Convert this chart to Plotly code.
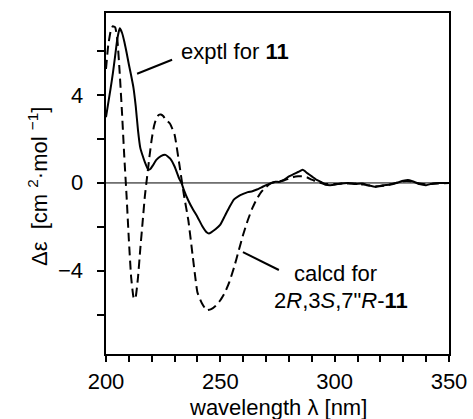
import plotly.graph_objects as go

# Experimental CD spectrum (solid)
exp_wl = [200, 202, 203, 204, 205, 206, 207, 208, 209, 210, 211, 212, 213, 214, 215, 216, 217, 218.5,
          219.5, 220.5, 222, 224, 226, 228, 230, 232, 233, 234, 236, 238, 240, 242, 244, 245, 246,
          248, 250, 252, 254, 256, 258, 260, 262, 264, 266, 268, 270, 272, 274, 276, 278, 280,
          282, 284, 286, 288, 290, 292, 294, 296, 298, 300, 303, 306, 309, 312, 315, 318, 321,
          324, 327, 330, 332, 334, 337, 340, 343, 346, 350]
exp_de = [3.0, 4.3, 5.0, 5.8, 6.6, 7.05, 6.85, 6.45, 5.95, 5.4, 4.9, 4.35, 3.5, 2.4, 1.6, 1.25, 0.95, 0.6,
          0.65, 0.8, 1.05, 1.22, 1.28, 1.12, 0.75, 0.2, 0.0, -0.3, -0.8, -1.2, -1.55, -1.95, -2.25, -2.3, -2.25,
          -2.1, -1.9, -1.5, -1.1, -0.75, -0.6, -0.5, -0.42, -0.38, -0.3, -0.2, -0.1, -0.02, 0.05, 0.05, 0.15, 0.3,
          0.4, 0.5, 0.6, 0.45, 0.3, 0.15, 0.05, -0.08, -0.1, -0.08, -0.02, 0.0, -0.05, -0.03, -0.12, -0.18, -0.1,
          -0.08, 0.0, 0.1, 0.14, 0.08, -0.05, -0.1, -0.02, 0.0, 0.0]

# Calculated ECD spectrum for 2R,3S,7''R-11 (dashed)
calc_wl = [200, 201, 202, 203, 204, 205, 206, 207, 208, 209, 210, 211, 212, 212.5, 213, 214, 215, 216,
           217, 218, 219, 220, 221, 222, 223, 224, 225, 226, 228, 230, 232, 234, 236, 238, 240, 242,
           244, 246, 248, 250, 252, 254, 256, 258, 260, 262, 264, 266, 268, 270, 272, 274, 276, 278,
           280, 282, 284, 286, 288, 290, 292, 294, 296, 300, 305, 310, 314, 318, 322, 326, 330, 333,
           336, 340, 345, 350]
calc_de = [5.2, 6.3, 6.9, 7.15, 7.1, 6.5, 5.0, 3.2, 1.2, -0.6, -2.6, -4.3, -5.2, -5.3, -5.2, -4.3, -3.0, -1.8,
           -0.6, 0.3, 1.2, 2.0, 2.6, 2.95, 3.1, 3.12, 3.05, 2.9, 2.7, 2.2, 0.9, -0.5, -1.7, -3.4, -5.0, -5.5,
           -5.8, -5.75, -5.6, -5.35, -5.0, -4.5, -3.85, -3.1, -2.35, -1.7, -1.15, -0.72, -0.4, -0.18, -0.02, 0.05, 0.08, 0.12,
           0.2, 0.27, 0.3, 0.3, 0.25, 0.15, 0.06, 0.0, -0.05, -0.05, -0.02, -0.03, -0.1, -0.15, -0.12, -0.02, 0.08, 0.08,
           0.0, -0.06, -0.02, 0.0]

# labelled y ticks
y_label_vals = [-4, 0, 4]
y_label_text = ["\u22124", "0", "4"]

FONT = "Arial, 'Liberation Sans', Helvetica, sans-serif"
FS = 22

fig = go.Figure()
fig.add_trace(go.Scatter(x=exp_wl, y=exp_de, mode="lines",
                         line=dict(color="black", width=2, shape="spline", smoothing=0.4),
                         showlegend=False, hoverinfo="skip"))
fig.add_trace(go.Scatter(x=calc_wl, y=calc_de, mode="lines",
                         line=dict(color="black", width=2, dash="9px,5px", shape="spline", smoothing=0.4),
                         showlegend=False, hoverinfo="skip"))

# zero line
fig.add_shape(type="line", xref="x", yref="y", x0=200, x1=350, y0=0, y1=0,
              line=dict(color="black", width=1))
# leader lines
fig.add_shape(type="line", xref="x", yref="y", x0=213.6, y0=4.98, x1=228.9, y1=5.62,
              line=dict(color="black", width=2))
fig.add_shape(type="line", xref="x", yref="y", x0=259.9, y0=-3.15, x1=275.6, y1=-3.97,
              line=dict(color="black", width=2))

fig.add_annotation(x=231.9, y=5.98, xref="x", yref="y", xanchor="left", yanchor="middle",
                   text="exptl for <b>11</b>", showarrow=False,
                   font=dict(family=FONT, size=FS, color="black"))
fig.add_annotation(x=300.3, y=-4.76, xref="x", yref="y", xanchor="center", yanchor="bottom",
                   text="calcd for", showarrow=False, borderpad=0,
                   font=dict(family=FONT, size=FS, color="black"))
fig.add_annotation(x=302.8, y=-4.76, xref="x", yref="y", xanchor="center", yanchor="top",
                   text="2<i>R</i>,3<i>S</i>,7\"<i>R</i>-<b>11</b>", showarrow=False, borderpad=0,
                   font=dict(family=FONT, size=FS, color="black"))

# y tick labels (placed beside the y axis ticks)
for v, t in zip(y_label_vals, y_label_text):
    fig.add_annotation(x=0, y=v, xref="paper", yref="y", xanchor="right", yanchor="middle",
                       xshift=-22, text=t, showarrow=False, borderpad=0,
                       font=dict(family=FONT, size=FS, color="black"))

# axis titles
fig.add_annotation(x=-0.198, y=0.49, xref="paper", yref="paper", xanchor="center", yanchor="middle",
                   textangle=-90, showarrow=False,
                   text="\u0394\u03b5  [cm <sup>2</sup>\u00b7mol <sup>\u22121</sup>]",
                   font=dict(family=FONT, size=FS, color="black"))
fig.add_annotation(x=0.5, y=-0.158, xref="paper", yref="paper", xanchor="center", yanchor="middle",
                   showarrow=False, text="wavelength \u03bb [nm]",
                   font=dict(family=FONT, size=FS, color="black"))

fig.update_layout(
    width=473, height=419,
    margin=dict(l=106, r=24, t=13, b=65, autoexpand=False),
    paper_bgcolor="white", plot_bgcolor="white",
    font=dict(family=FONT, size=FS, color="black"),
    xaxis=dict(range=[200, 350], tick0=200, dtick=50, automargin=False,
               ticks="outside", ticklen=6, tickwidth=2, tickcolor="black",
               minor=dict(dtick=10, ticks="outside", ticklen=6, tickwidth=2, tickcolor="black", showgrid=False),
               showline=True, linecolor="black", linewidth=2, mirror=True,
               showgrid=False, zeroline=False, ticklabelstandoff=1),
    yaxis=dict(range=[-7.8, 7.75], tick0=0, dtick=4, automargin=False,
               ticks="outside", ticklen=7, tickwidth=2, tickcolor="black",
               minor=dict(dtick=2, ticks="outside", ticklen=7, tickwidth=2, tickcolor="black", showgrid=False),
               showline=True, linecolor="black", linewidth=2, mirror=True,
               showgrid=False, zeroline=False, showticklabels=False),
)

fig.write_html("out.html", config={"displayModeBar": False},
               post_script="document.body.style.margin='0';")
